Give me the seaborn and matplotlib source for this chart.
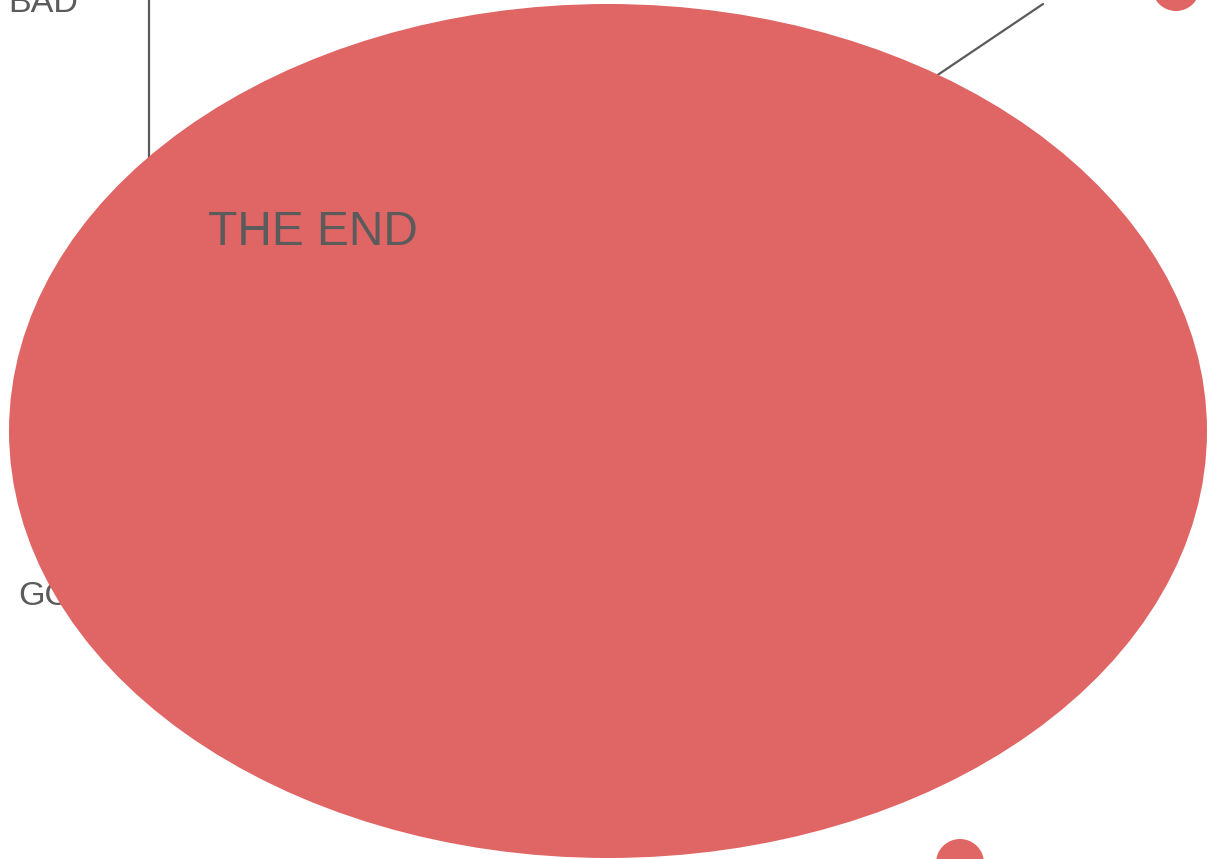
import matplotlib
matplotlib.use("Agg")
import matplotlib.pyplot as plt
from matplotlib.patches import Ellipse
import pandas as pd
import seaborn as sns

# 데이터 (figure pixel units, y grows downward)
blob_x = [608]
blob_y = [431]
blob_w = [1198]
blob_h = [854]

dot_x = [1176, 960]
dot_y = [-13, 863]

line_a_x = [149, 149]
line_a_y = [-10, 260]
line_b_x = [1043, 850]
line_b_y = [4, 134]

labels = ["BAD", "GOOD", "THE END"]
label_x = [8, 18, 208]
label_y = [12, 605, 245]
label_size = [24.6, 24.6, 34.5]
label_z = [1, 1, 5]

RED = "#e06666"
GREY = "#5b5b5b"

sns.set_theme(style="white")
plt.rcParams['font.family'] = ['Liberation Sans', 'DejaVu Sans']

fig = plt.figure(figsize=(12.11, 8.59), dpi=100)
ax = fig.add_axes([0, 0, 1, 1])

# 연결선 (타원 뒤)
ax.plot(line_a_x, line_a_y, color=GREY, lw=1.6, zorder=1)
ax.plot(line_b_x, line_b_y, color=GREY, lw=1.6, zorder=1)

# 큰 타원
for x, y, w, h in zip(blob_x, blob_y, blob_w, blob_h):
    ax.add_patch(Ellipse((x, y), w, h, facecolor=RED, edgecolor="none", zorder=3))

# 작은 점
dots = pd.DataFrame({"x": dot_x, "y": dot_y})
sns.scatterplot(data=dots, x="x", y="y", ax=ax, s=1194, color=RED,
                edgecolor="none", zorder=3, legend=False)
ax.set_xlim(0, 1211)
ax.set_ylim(859, 0)
ax.axis("off")

for t, x, y, fs, z in zip(labels, label_x, label_y, label_size, label_z):
    ax.text(x, y, t, fontsize=fs, color=GREY, ha="left", va="baseline", zorder=z)

fig.savefig("out.png", dpi=100)
